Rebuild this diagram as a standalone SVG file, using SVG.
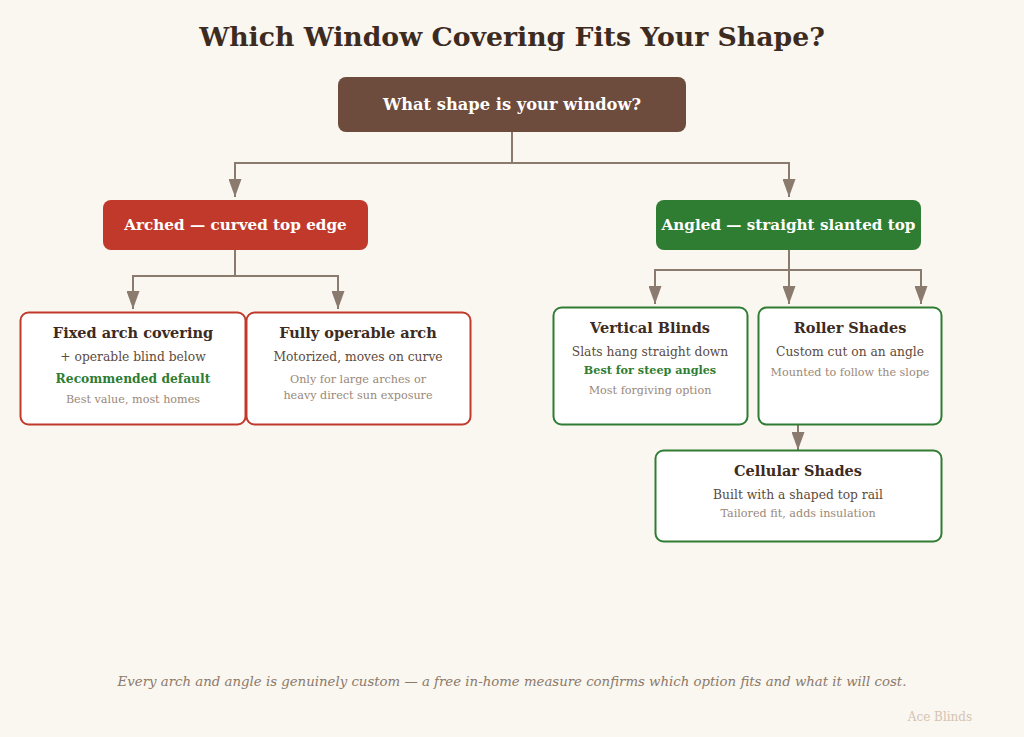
<svg xmlns="http://www.w3.org/2000/svg" width="1024" height="737" viewBox="0 0 1024 737">
<defs>
<marker id="arw" viewBox="0 0 18 13" refX="18" refY="6.5" markerWidth="18" markerHeight="13" markerUnits="userSpaceOnUse" orient="auto">
<path d="M0,0 L18,6.5 L0,13 z" fill="#8b7b6e"/>
</marker>
<style>
text{font-family:"DejaVu Serif","Liberation Serif",serif;text-anchor:middle}
.title{font-size:26.7px;font-weight:bold;fill:#3d2b1f}
.hdr{font-size:15.2px;font-weight:bold;fill:#ffffff}
.nt{font-size:14.5px;font-weight:bold;fill:#3d2b1f}
.l1{font-size:12.3px;fill:#5d4a3d}
.gr{font-size:12.3px;font-weight:bold;fill:#2e7d32}
.gs{font-size:11.2px;font-weight:bold;fill:#2e7d32}
.l2{font-size:11.2px;fill:#9a8878}
.card{fill:#ffffff;stroke-width:2}
.red{stroke:#c0392b}
.grn{stroke:#2e7d32}
.edge{fill:none;stroke:#8b7b6e;stroke-width:2}
</style>
</defs>
<rect width="1024" height="737" fill="#faf6f0"/>
<text class="title" x="512" y="46">Which Window Covering Fits Your Shape?</text>
<g id="connectors">
<path class="edge" d="M512,132 V163 H235 V197" marker-end="url(#arw)"/>
<path class="edge" d="M512,163 H789 V197" marker-end="url(#arw)"/>
<path class="edge" d="M235,250 V276 H133 V309" marker-end="url(#arw)"/>
<path class="edge" d="M235,276 H338 V309" marker-end="url(#arw)"/>
<path class="edge" d="M789,250 V270 H655 V304" marker-end="url(#arw)"/>
<path class="edge" d="M789,250 V304" marker-end="url(#arw)"/>
<path class="edge" d="M789,270 H921 V304" marker-end="url(#arw)"/>
<path class="edge" d="M798,425 V450" marker-end="url(#arw)"/>
</g>
<g id="root">
<rect x="338" y="77" width="348" height="55" rx="8" fill="#6d4c3d"/>
<text class="hdr" x="512" y="110" style="font-size:16.3px">What shape is your window?</text>
</g>
<g id="arched">
<rect x="103" y="200" width="265" height="50" rx="8" fill="#c0392b"/>
<text class="hdr" x="235.5" y="230">Arched — curved top edge</text>
</g>
<g id="angled">
<rect x="656" y="200" width="265" height="50" rx="8" fill="#2e7d32"/>
<text class="hdr" x="788.5" y="230">Angled — straight slanted top</text>
</g>
<g id="fixed">
<rect class="card red" x="20.5" y="312.5" width="225" height="112" rx="8"/>
<text class="nt" x="133" y="338">Fixed arch covering</text>
<text class="l1" x="133" y="361">+ operable blind below</text>
<text class="gr" x="133" y="383">Recommended default</text>
<text class="l2" x="133" y="403">Best value, most homes</text>
</g>
<g id="fully">
<rect class="card red" x="246.5" y="312.5" width="224" height="112" rx="8"/>
<text class="nt" x="358" y="338">Fully operable arch</text>
<text class="l1" x="358" y="361">Motorized, moves on curve</text>
<text class="l2" x="358" y="383">Only for large arches or</text>
<text class="l2" x="358" y="399">heavy direct sun exposure</text>
</g>
<g id="vertical">
<rect class="card grn" x="553.5" y="307.5" width="194" height="117" rx="8"/>
<text class="nt" x="650" y="333">Vertical Blinds</text>
<text class="l1" x="650" y="356">Slats hang straight down</text>
<text class="gs" x="650" y="374">Best for steep angles</text>
<text class="l2" x="650" y="394">Most forgiving option</text>
</g>
<g id="roller">
<rect class="card grn" x="758.5" y="307.5" width="183" height="117" rx="8"/>
<text class="nt" x="850" y="333">Roller Shades</text>
<text class="l1" x="850" y="356">Custom cut on an angle</text>
<text class="l2" x="850" y="376">Mounted to follow the slope</text>
</g>
<g id="cellular">
<rect class="card grn" x="655.5" y="450.5" width="286" height="91" rx="8"/>
<text class="nt" x="798" y="476">Cellular Shades</text>
<text class="l1" x="798" y="499">Built with a shaped top rail</text>
<text class="l2" x="798" y="517">Tailored fit, adds insulation</text>
</g>
<text x="512" y="686" style="font-size:13.3px;font-style:italic;fill:#8a7a6a">Every arch and angle is genuinely custom — a free in-home measure confirms which option fits and what it will cost.</text>
<text x="940" y="721" style="font-size:12px;fill:#d4c4b4">Ace Blinds</text>
</svg>
